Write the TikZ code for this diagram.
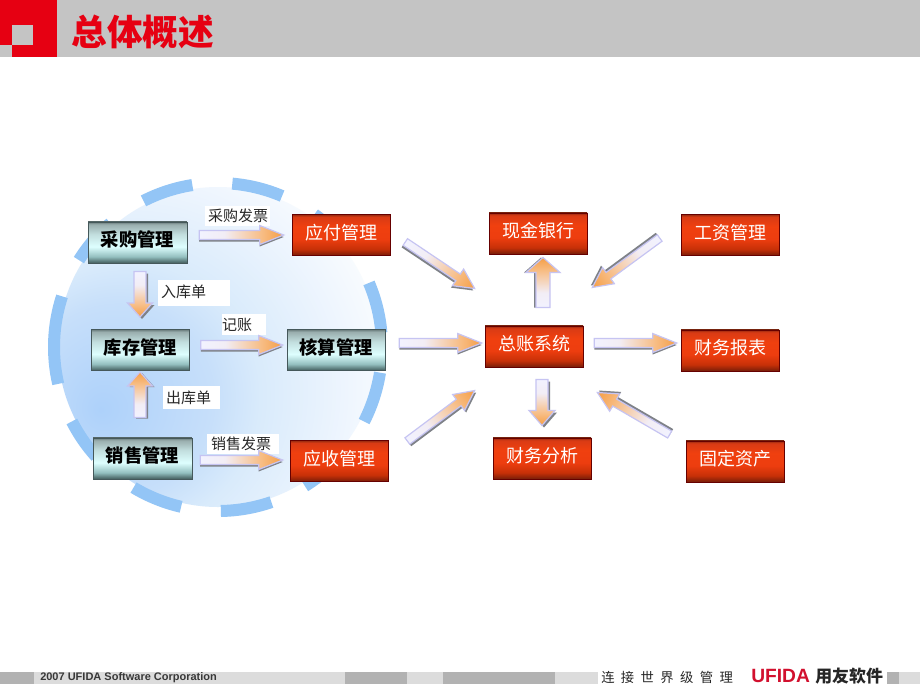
\documentclass[tikz,border=0pt]{standalone}
\usepackage{fontspec}
\setmainfont{Liberation Sans}
\newfontfamily\cjk{Noto Sans CJK SC}
\newfontfamily\cjkspaced[LetterSpace=48]{Noto Sans CJK SC}
\usetikzlibrary{calc}
\definecolor{bandgray}{HTML}{C4C4C4}
\definecolor{headred}{HTML}{E60012}
\definecolor{footdark}{HTML}{B2B2B2}
\definecolor{footlight}{HTML}{DCDCDC}
\definecolor{ringblue}{HTML}{93C5F6}
\definecolor{arredge}{HTML}{C6C4F2}
\definecolor{arrshade}{HTML}{7F8288}
\definecolor{ufred}{HTML}{D2102E}
\definecolor{tealedge}{HTML}{45585A}
\pgfdeclareverticalshading{tealbox}{100bp}{
 rgb(0bp)=(.27,.36,.36); rgb(25bp)=(.27,.36,.36);
 rgb(27bp)=(.33,.45,.45); rgb(33bp)=(.58,.75,.75); rgb(45bp)=(.87,1,1);
 rgb(60bp)=(.76,.87,.87); rgb(72bp)=(.60,.68,.68); rgb(75bp)=(.40,.47,.47); rgb(100bp)=(.40,.47,.47)}
\pgfdeclareverticalshading{redbox}{100bp}{
 rgb(0bp)=(.42,.13,.06); rgb(25bp)=(.42,.13,.06); rgb(27bp)=(.54,.13,.03); rgb(33bp)=(.78,.19,.03);
 rgb(45bp)=(.93,.24,.06); rgb(60bp)=(.94,.25,.06); rgb(72bp)=(.85,.23,.08); rgb(75bp)=(.56,.16,.06); rgb(100bp)=(.56,.16,.06)}
\pgfdeclareradialshading{discglow}{\pgfpoint{-18.4bp}{-9.8bp}}{
 rgb(0bp)=(.68,.82,.98); rgb(15bp)=(.78,.875,.98); rgb(21bp)=(.85,.92,.985); rgb(32bp)=(.93,.96,.995); rgb(42bp)=(1,1,1); rgb(100bp)=(1,1,1)}
\pgfdeclarehorizontalshading{arrfade}{100bp}{
 rgb(0bp)=(.95,.95,1); rgb(25bp)=(.95,.95,1); rgb(40bp)=(.95,.93,.96); rgb(62bp)=(.97,.74,.52); rgb(75bp)=(.96,.62,.27); rgb(100bp)=(.96,.62,.27)}
\newcommand{\blockarr}[7]{%
 \pgfpointanchor{#1}{center}\pgfgetlastxy{\xa}{\ya}%
 \pgfpointanchor{#2}{center}\pgfgetlastxy{\xb}{\yb}%
 \pgfmathsetmacro{\arrlen}{veclen(\xb-\xa,\yb-\ya)}%
 \pgfmathsetmacro{\arrang}{atan2(\yb-\ya,\xb-\xa)}%
 \pgfmathsetmacro{\arrneck}{\arrlen-#5*0.75}%
 \pgfmathsetmacro{\arrs}{#3*0.75}%
 \pgfmathsetmacro{\arrS}{#4*0.75}%
 \def\arrpath{(0pt,-\arrs pt)--(\arrneck pt,-\arrs pt)--(\arrneck pt,-\arrS pt)--(\arrlen pt,0pt)--(\arrneck pt,\arrS pt)--(\arrneck pt,\arrs pt)--(0pt,\arrs pt)--cycle}%
 \begin{scope}[transform canvas={shift={(\xa+#6*0.75pt,\ya-#7*0.75pt)},rotate=\arrang}]
  \fill[arrshade] \arrpath;
 \end{scope}
 \begin{scope}[transform canvas={shift={(\xa,\ya)},rotate=\arrang}]
  \path[draw=arredge,line width=0.9pt,shading=arrfade] \arrpath;
 \end{scope}}
\tikzset{
 x=0.75pt,y=-0.75pt,
 bx/.style={minimum width=73.5pt,minimum height=31pt,inner sep=0pt,rectangle,text height=10pt,text depth=4pt},
 tealnode/.style={bx,shading=tealbox,draw=tealedge,line width=.5pt,font=\cjk\bfseries\fontsize{13.7}{14}\selectfont,text=black},
 rednode/.style={bx,shading=redbox,draw=red!40!black,line width=.5pt,font=\cjk\fontsize{13.5}{14}\selectfont,text=white},
 lab/.style={fill=white,inner sep=0pt,inner xsep=2.25pt,align=left,font=\cjk\fontsize{11.25}{12}\selectfont,text=black!85},
 ring/.style={draw=ringblue,line width=9pt},
}
\begin{document}
\begin{tikzpicture}
\useasboundingbox (0,0) rectangle (920,690);
\fill[white] (0,0) rectangle (920,690);
% header
\fill[bandgray] (57,0) rectangle (920,57);
\fill[headred] (0,0) rectangle (57,57);
\fill[bandgray] (12,25) rectangle (33,45);
\fill[bandgray] (0,45) rectangle (12,57);
\node[anchor=west,inner sep=0pt,text=headred,font=\cjk\bfseries\fontsize{26.7}{28}\selectfont] (title) at (71.5,32) {总体概述};
% footer
\fill[footdark] (0,672) rectangle (34,684);
\fill[footlight] (34,672) rectangle (345,684);
\fill[footdark] (345,672) rectangle (407,684);
\fill[footlight] (407,672) rectangle (443,684);
\fill[footdark] (443,672) rectangle (555,684);
\fill[footlight] (555,672) rectangle (598,684);
\fill[footdark] (887,672) rectangle (899,684);
\fill[footlight] (899,672) rectangle (920,684);
\node[anchor=west,inner sep=0pt,text=black!78,font=\bfseries\fontsize{8.25}{9}\selectfont] (copy) at (40,677.5) {2007 UFIDA Software Corporation};
\node[anchor=west,inner sep=0pt,text=black!85,font=\cjkspaced\fontsize{10}{10}\selectfont] (slogan) at (601,677) {连接世界级管理};
\node[anchor=west,inner sep=0pt,text=ufred,font=\bfseries\fontsize{14.4}{15}\selectfont] (ufida) at (751,676) {UFIDA};
\node[anchor=west,inner sep=0pt,text=black!85,font=\cjk\bfseries\fontsize{12.7}{13}\selectfont] (brand) at (815,676) {用友软件};
% disc and dashed ring
\coordinate (cen) at (218,347);
\path[shading=discglow] (cen) circle (120pt);
\foreach \a/\b in {99/117,67/85,131/148,162/193,207/222,239/257,271/289,302/320,333/351,5/23,36/54}
 \draw[ring] ($(cen)+(\a:123pt)$) arc[start angle=\a,end angle=\b,radius=123pt];
% boxes
\node[tealnode,minimum width=74pt] (buy) at (137.5,242.5) {采购管理};
\node[tealnode] (stock) at (140.5,350) {库存管理};
\node[tealnode,minimum width=74pt] (sale) at (142.5,458.5) {销售管理};
\node[tealnode] (cost) at (336,350) {核算管理};
\node[rednode] (pay) at (341,235) {应付管理};
\node[rednode] (recv) at (339,461) {应收管理};
\node[rednode] (cash) at (538,233.5) {现金银行};
\node[rednode] (salary) at (730,235) {工资管理};
\node[rednode] (gl) at (534,346.5) {总账系统};
\node[rednode] (report) at (730,350.5) {财务报表};
\node[rednode] (analysis) at (542,458.5) {财务分析};
\node[rednode] (assets) at (735,461.5) {固定资产};
% labels
\node[lab,minimum width=48.75pt,minimum height=15pt,text width=44pt] (l1) at (237.5,216) {采购发票};
\node[lab,minimum width=54pt,minimum height=19.5pt,text width=49.5pt] (l2) at (194,293) {\raisebox{2.25pt}{入库单}};
\node[lab,inner xsep=0pt,minimum width=33pt,minimum height=15.75pt,text width=33pt] (l3) at (244,324.5) {记账};
\node[lab,minimum width=42.75pt,minimum height=17.25pt,text width=38.25pt] (l4) at (191.5,397.5) {出库单};
\node[lab,inner xsep=3pt,minimum width=54pt,minimum height=15pt,text width=48pt] (l5) at (243,443.5) {销售发票};
% arrow ends
\coordinate (a1t) at ([shift={(12,-7.5)}]buy.east);
\coordinate (a1h) at ([shift={(-8,0)}]pay.west);
\coordinate (a2t) at ([shift={(2.5,8)}]buy.south);
\coordinate (a2h) at ([shift={(-.5,-12)}]stock.north);
\coordinate (a3t) at ([shift={(11,-5)}]stock.east);
\coordinate (a3h) at ([shift={(-4,-5)}]cost.west);
\coordinate (a4t) at ([shift={(-2.5,-20)}]sale.north);
\coordinate (a4h) at ([shift={(-.5,1)}]stock.south);
\coordinate (a5t) at ([shift={(8,1.5)}]sale.east);
\coordinate (a5h) at ([shift={(-7,-1)}]recv.west);
\coordinate (a6t) at ([shift={(15,7)}]pay.east);
\coordinate (a6h) at ([shift={(-10,-37)}]gl.north west);
\coordinate (a7t) at ([shift={(-21,3)}]salary.west);
\coordinate (a7h) at ([shift={(9,-38)}]gl.north east);
\coordinate (a8t) at ([shift={(9,-18)}]gl.north);
\coordinate (a8h) at ([shift={(5,3)}]cash.south);
\coordinate (a9t) at ([shift={(14,-7)}]cost.east);
\coordinate (a9h) at ([shift={(-3,-3.5)}]gl.west);
\coordinate (a10t) at ([shift={(11,-3.5)}]gl.east);
\coordinate (a10h) at ([shift={(-4,-7.5)}]report.west);
\coordinate (a11t) at ([shift={(19,-20)}]recv.east);
\coordinate (a11h) at ([shift={(-10,23)}]gl.south west);
\coordinate (a12t) at ([shift={(8,12)}]gl.south);
\coordinate (a12h) at ([shift={(0,-12)}]analysis.north);
\coordinate (a13t) at ([shift={(-16,-6)}]assets.north west);
\coordinate (a13h) at ([shift={(14,25)}]gl.south east);
% block arrows
\blockarr{a1t}{a1h}{4.5}{9.5}{24}{0}{2}
\blockarr{a2t}{a2h}{6}{12.5}{14}{2}{2}
\blockarr{a3t}{a3h}{4.5}{9.5}{24}{0}{2}
\blockarr{a4t}{a4h}{6}{12.5}{14}{2}{1}
\blockarr{a5t}{a5h}{4.5}{9.5}{24}{0}{2}
\blockarr{a6t}{a6h}{4}{10}{20}{-1.5}{2}
\blockarr{a7t}{a7h}{4}{10}{20}{-1.5}{-2}
\blockarr{a8t}{a8h}{7}{17}{15}{-2}{0}
\blockarr{a9t}{a9h}{4.5}{9.5}{24}{0}{2}
\blockarr{a10t}{a10h}{4.5}{9.5}{24}{0}{2}
\blockarr{a11t}{a11h}{4}{10}{20}{1.5}{2}
\blockarr{a12t}{a12h}{6}{13}{15}{2}{2}
\blockarr{a13t}{a13h}{4}{10}{20}{1.5}{-2}
\end{tikzpicture}
\end{document}
